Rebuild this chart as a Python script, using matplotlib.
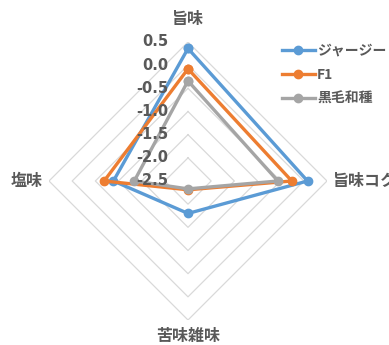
import numpy as np
import matplotlib
matplotlib.use('Agg')
import matplotlib.pyplot as plt
import matplotlib.transforms as mtransforms

plt.rcParams['font.family'] = ['Noto Sans CJK JP', 'DejaVu Sans']

categories = ['旨味', '旨味コク', '苦味雑味', '塩味']
series_names = ['ジャージー', 'F1', '黒毛和種']
jersey = [0.36, 0.08, -1.80, -0.89]
f1 = [-0.08, -0.26, -2.31, -0.69]
kuroge = [-0.34, -0.56, -2.33, -1.34]
ticks = [-2.5, -2.0, -1.5, -1.0, -0.5, 0.0, 0.5]
tick_labels = ['-2.5', '-2.0', '-1.5', '-1.0', '-0.5', '0.0', '0.5']

colors = ['#5B9BD5', '#ED7D31', '#A5A5A5']
txt = '#595959'

W, H = 389, 345
fig = plt.figure(figsize=(W / 100, H / 100), dpi=100)
cx, cy, R = 188, 181, 139
ax = fig.add_axes([(cx - R) / W, (H - cy - R) / H, 2 * R / W, 2 * R / H], projection='polar')
ax.set_theta_offset(np.pi / 2)
ax.set_theta_direction(-1)
ax.set_rlim(-2.5, 0.5)
ax.set_xticks([])
ax.set_yticks([])
ax.grid(False)
ax.spines['polar'].set_visible(False)
ax.patch.set_alpha(0)

angles = np.linspace(0, 2 * np.pi, len(categories), endpoint=False)
closed = np.append(angles, angles[0])

# diamond grid
for t in ticks[1:]:
    ax.plot(closed, [t] * len(closed), color='#D9D9D9', lw=0.9, zorder=1)

for vals, name, c in zip([jersey, f1, kuroge], series_names, colors):
    v = vals + vals[:1]
    ax.plot(closed, v, color=c, lw=2.4, marker='o', markersize=6, label=name, zorder=3)

# value labels along the top spoke
off = mtransforms.offset_copy(ax.transData, fig, x=-20, y=0, units='dots')
for t, lab in zip(ticks, tick_labels):
    ax.text(0, t, lab, transform=off, ha='right', va='center', fontsize=10.5,
            fontweight='bold', color=txt, family='DejaVu Sans', zorder=4)

# category labels
lab_r = [1.0, 0.63, 0.84, 0.63]
has = ['center', 'left', 'center', 'right']
for a, c, r, h in zip(angles, categories, lab_r, has):
    ax.text(a, r, c, ha=h, va='center', fontsize=11.5, fontweight='bold',
            color=txt, clip_on=False)

leg = ax.legend(loc='upper left', bbox_to_anchor=(276 / W, 1 - 38 / H),
                bbox_transform=fig.transFigure, frameon=False,
                prop={'size': 10, 'weight': 'bold'}, handlelength=2.4,
                handletextpad=0.15, labelspacing=0.72, borderaxespad=0)
for t in leg.get_texts():
    t.set_color(txt)

fig.savefig('out.png', dpi=100)
